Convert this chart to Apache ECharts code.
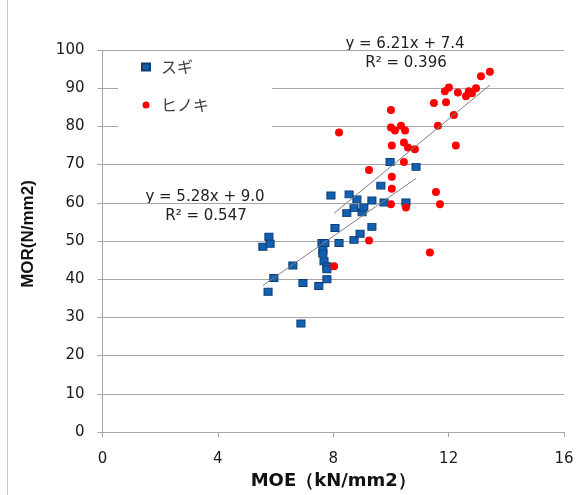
<!DOCTYPE html>
<html><head><meta charset="utf-8">
<script src="https://cdn.jsdelivr.net/npm/echarts@6/dist/echarts.min.js"></script>
<style>html,body{margin:0;padding:0;background:#fff}#c{width:582px;height:495px}</style>
</head><body><div id="c"></div>
<script>
// スギ (MOE, MOR)
const sugiMOE = [5.56,5.77,5.81,5.74,5.94,6.60,6.95,6.88,7.50,7.78,7.61,7.71,7.64,7.64,7.68,7.78,7.78,7.92,8.06,8.20,8.47,8.55,8.72,8.72,8.82,8.93,9.00,9.06,9.34,9.34,9.65,9.76,9.97,10.52,10.87];
const sugiMOR = [48.5,51.1,49.3,36.7,40.3,43.6,39.0,28.4,38.2,40.0,49.5,49.5,47.7,46.7,44.7,43.4,42.6,61.9,53.4,49.5,57.3,62.2,50.3,58.6,60.9,51.9,57.5,58.8,60.6,53.7,64.5,60.1,70.7,60.1,69.4];
// ヒノキ (MOE, MOR)
const hinokiMOE = [10.00,8.20,10.00,10.14,10.35,10.49,10.03,10.45,10.59,10.83,10.45,9.24,10.03,10.03,10.00,10.52,9.24,11.35,8.03,11.56,11.70,12.25,13.43,13.12,12.01,11.87,12.32,12.70,12.95,12.81,12.60,11.49,11.91,12.18,11.63];
const hinokiMOR = [84.3,78.4,79.7,78.9,80.2,78.9,75.0,75.8,74.5,74.0,70.7,68.6,66.8,63.7,59.6,58.8,50.1,47.0,43.4,62.8,59.6,75.0,94.3,93.1,90.2,89.2,88.9,89.2,90.0,88.7,87.9,86.1,86.3,83.0,80.2];
const seriesNames = ['スギ','ヒノキ'];
const sugiFit = {slope:5.28, intercept:9.0, r2:'0.547'};
const hinokiFit = {slope:6.21, intercept:7.4, r2:'0.396'};

function zip(a,b){return a.map((v,i)=>[v,b[i]]);}
function fitLine(xs,f){const lo=Math.min(...xs),hi=Math.max(...xs);return [[lo,f.slope*lo+f.intercept],[hi,f.slope*hi+f.intercept]];}

const chart = echarts.init(document.getElementById('c'),null,{renderer:'canvas'});
const gray='#a6a6a6';
chart.setOption({
  animation:false,
  backgroundColor:'#fff',
  grid:{left:102.5,right:18,top:50,bottom:56.5},
  legend:{
    orient:'vertical',left:118,top:55,
    padding:[4,63,26,23],itemGap:22,itemWidth:8,itemHeight:7,
    backgroundColor:'#fff',
    textStyle:{fontFamily:'Noto Sans CJK JP',fontSize:16,color:'#404040',padding:[0,0,0,6]},
    data:[{name:seriesNames[0],icon:'rect'},{name:seriesNames[1],icon:'circle'}]
  },
  xAxis:{
    type:'value',min:0,max:16,interval:4,
    name:'MOE（kN/mm2）',nameLocation:'middle',nameGap:40,
    nameTextStyle:{fontFamily:'DejaVu Sans',fontWeight:'bold',fontSize:18,color:'#111'},
    axisLine:{show:true,lineStyle:{color:gray}},
    axisTick:{show:true,length:5,lineStyle:{color:gray}},
    axisLabel:{margin:20,fontFamily:'DejaVu Sans',fontSize:15,color:'#1a1a1a'},
    splitLine:{show:false}
  },
  yAxis:{
    type:'value',min:0,max:100,interval:10,
    name:'MOR(N/mm2)',nameLocation:'middle',nameGap:66,nameRotate:90,
    nameTextStyle:{fontFamily:'Liberation Sans',fontWeight:'bold',fontSize:17,color:'#111',padding:[0,0,0,14]},
    axisLine:{show:true,lineStyle:{color:gray}},
    axisTick:{show:true,length:5,lineStyle:{color:gray}},
    axisLabel:{margin:18,fontFamily:'DejaVu Sans',fontSize:15,color:'#1a1a1a'},
    splitLine:{show:true,lineStyle:{color:gray,width:1}}
  },
  series:[
    {name:seriesNames[0],type:'scatter',symbol:'rect',symbolSize:[8,7],z:2,
     itemStyle:{color:'#1260b0',borderColor:'#0b3c78',borderWidth:1,opacity:1},
     data:zip(sugiMOE,sugiMOR)},
    {name:seriesNames[1],type:'scatter',symbol:'circle',symbolSize:8,z:3,
     itemStyle:{color:'#ff0000',opacity:1},
     data:zip(hinokiMOE,hinokiMOR)},
    {type:'line',data:fitLine(sugiMOE,sugiFit),symbol:'none',silent:true,z:4,
     lineStyle:{color:'#7f7f7f',width:1}},
    {type:'line',data:fitLine(hinokiMOE,hinokiFit),symbol:'none',silent:true,z:4,
     lineStyle:{color:'#7f7f7f',width:1}}
  ],
  graphic:[
    {type:'line',shape:{x1:7.5,y1:0,x2:7.5,y2:495},style:{stroke:'#c8c8c8',lineWidth:1}},
    {type:'text',x:405,y:44,style:{text:'y = '+hinokiFit.slope.toFixed(2)+'x + '+hinokiFit.intercept.toFixed(1),font:'15px "DejaVu Sans"',fill:'#222',align:'center',verticalAlign:'middle'}},
    {type:'text',x:406,y:63,style:{text:'R² = '+hinokiFit.r2,font:'15px "DejaVu Sans"',fill:'#222',align:'center',verticalAlign:'middle'}},
    {type:'text',x:205,y:197,style:{text:'y = '+sugiFit.slope.toFixed(2)+'x + '+sugiFit.intercept.toFixed(1),font:'15px "DejaVu Sans"',fill:'#222',align:'center',verticalAlign:'middle'}},
    {type:'text',x:206,y:216,style:{text:'R² = '+sugiFit.r2,font:'15px "DejaVu Sans"',fill:'#222',align:'center',verticalAlign:'middle'}}
  ]
});
</script></body></html>
